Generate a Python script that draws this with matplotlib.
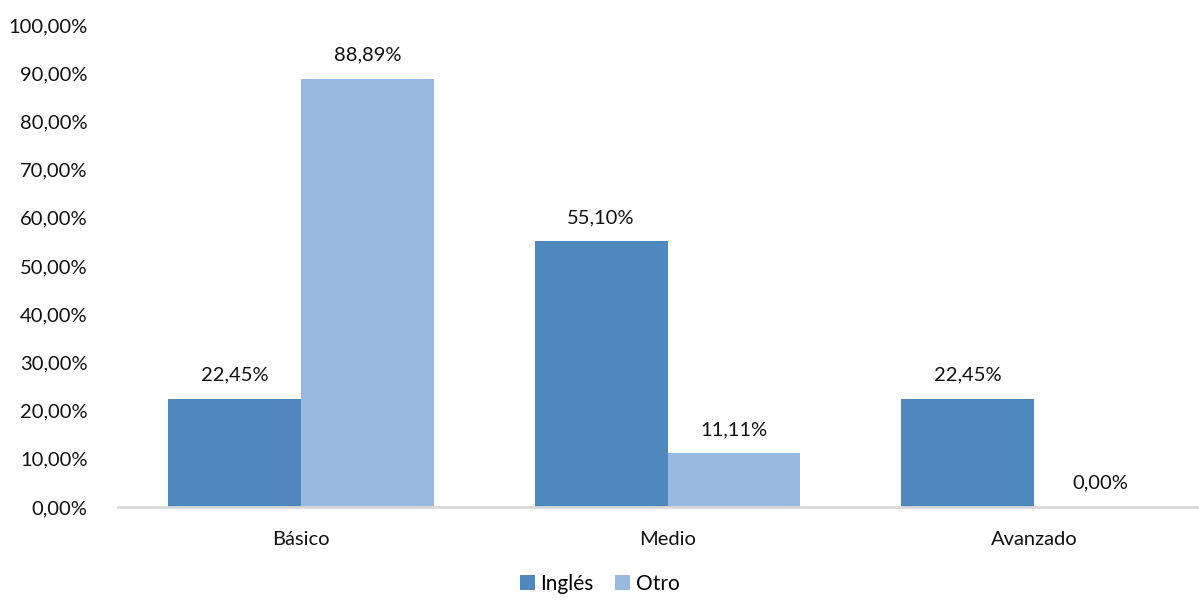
from matplotlib import pyplot as plt
import numpy as np

# Data
categorias = ['Básico', 'Medio', 'Avanzado']
ingles = [22.45, 55.10, 22.45]
otro = [88.89, 11.11, 0.00]
series = ['Inglés', 'Otro']
colores = ['#4F88BD', '#99B9E0']

plt.rcParams['font.family'] = ['Lato', 'DejaVu Sans']

fig = plt.figure(figsize=(11.99, 6.02), dpi=100)
ax = fig.add_axes([118 / 1199, 1 - 507 / 602, 1099 / 1199, 482 / 602])

x = np.arange(len(categorias))
ancho = 0.363

b1 = ax.bar(x - ancho / 2, ingles, ancho, color=colores[0], label=series[0])
b2 = ax.bar(x + ancho / 2, otro, ancho, color=colores[1], label=series[1])

def fmt(v):
    return ('%.2f%%' % v).replace('.', ',')

for barras, vals in ((b1, ingles), (b2, otro)):
    for b, v in zip(barras, vals):
        ax.annotate(fmt(v), (b.get_x() + b.get_width() / 2, v),
                    xytext=(0, 11), textcoords='offset points',
                    ha='center', va='bottom', fontsize=14.5, color='#111111')

ax.set_xlim(-0.5, 2.5)
ax.set_ylim(0, 100)
ax.set_yticks(np.arange(0, 101, 10))
ax.set_yticklabels([fmt(v) for v in np.arange(0, 101, 10)])
ax.set_xticks(x)
ax.set_xticklabels(categorias)
ax.tick_params(axis='both', length=0, labelsize=14.5, colors='#111111')
ax.tick_params(axis='x', pad=17)
ax.tick_params(axis='y', pad=22)

for s in ['top', 'right', 'left']:
    ax.spines[s].set_visible(False)
ax.spines['bottom'].set_color('#D9D9D9')
ax.spines['bottom'].set_linewidth(2)

fig.legend(loc='lower center', bbox_to_anchor=(0.5, -0.018), ncol=2, frameon=False,
           fontsize=15, handlelength=0.75, handleheight=0.75, handletextpad=0.25,
           columnspacing=1.0)

plt.savefig('out.png', dpi=100)
